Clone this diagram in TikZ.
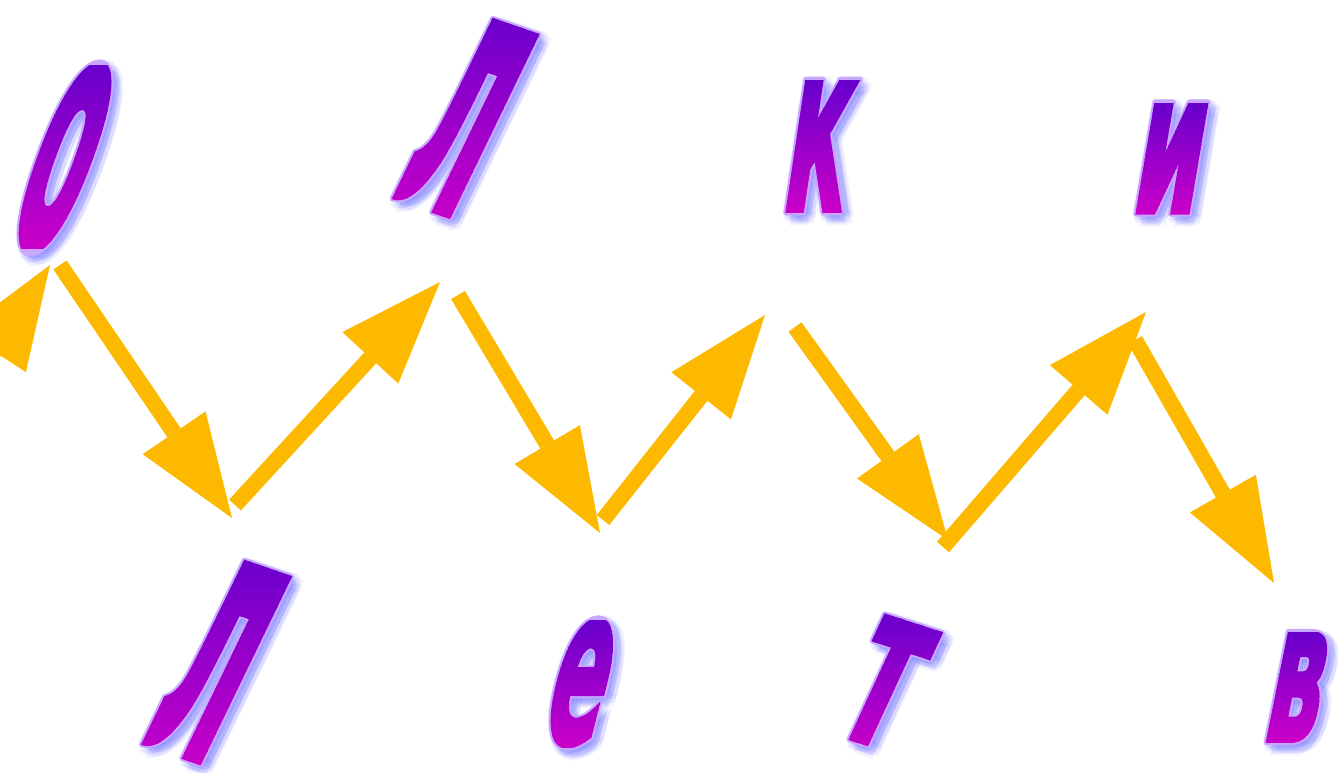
\documentclass[tikz,border=0pt]{standalone}
\usepackage{fontspec}
\usetikzlibrary{arrows.meta}
\newfontfamily\lf{DejaVu Sans}[BoldFeatures={FakeBold=2.5}]
\definecolor{arrc}{HTML}{FDB800}
\definecolor{gtop}{HTML}{6A00CC}
\definecolor{gbot}{HTML}{C800C8}
\definecolor{glowc}{HTML}{6A6AFF}
\definecolor{outc}{HTML}{C8A8FF}
\tikzset{
  arr/.style={line width=16pt, draw=arrc, line cap=butt,
    -{Triangle[length=103pt,width=76pt,line width=0pt]}},
  lettr/.style={inner sep=0pt, anchor=center}
}
% #1 name, #2 x, #3 y, #4 char, #5 font size (pt), #6 transform, #7 top y, #8 bottom y
\newcommand\gradletter[8]{%
  \coordinate (#1) at (#2,#3);
  \foreach \gx/\gy in {4/5,8/6,6/10,0/8,8/0,2/2,10/10,-2/6,6/-2,4/12,12/4,-3/-1,3/8,9/3}{
    \node[lettr,#6,font={\lf\bfseries\fontsize{#5pt}{#5pt}\selectfont},
      text=glowc,opacity=0.08] at ([shift={(\gx,\gy)}]#1) {#4};}
  \foreach \gx/\gy in {2/0,-2/0,0/2,0/-2,1.5/1.5,-1.5/1.5,1.5/-1.5,-1.5/-1.5}{
    \node[lettr,#6,font={\lf\bfseries\fontsize{#5pt}{#5pt}\selectfont},
      text=outc] at ([shift={(\gx,\gy)}]#1) {#4};}
  \foreach \i in {0,...,23}{
    \pgfmathsetmacro\ya{#7+\i*(#8-#7)/24}
    \pgfmathsetmacro\yb{#7+(\i+1)*(#8-#7)/24+0.8}
    \pgfmathtruncatemacro\pc{\i*100/23}
    \begin{scope}
      \clip (#2-250,\ya) rectangle (#2+250,\yb);
      \node[lettr,#6,font={\lf\bfseries\fontsize{#5pt}{#5pt}\selectfont},
        text={gbot!\pc!gtop}] at (#1) {#4};
    \end{scope}}
}
\begin{document}
\begin{tikzpicture}[x=1pt,y=-1pt]
\useasboundingbox (0,0) rectangle (1338,772);
\clip (0,0) rectangle (1338,772);
% letters
\gradletter{lo}{65}{158}{о}{322}{xslant=0.36,xscale=0.28}{65}{248}
\gradletter{ll1}{467}{117}{л}{357}{rotate=-19,xslant=0.12,xscale=0.28}{10}{225}
\gradletter{lk}{820}{146}{к}{236}{xslant=0.15,xscale=0.39}{80}{212}
\gradletter{li}{1172}{158}{и}{198}{xslant=0.17,xscale=0.49}{103}{214}
\gradletter{ll2}{218}{661}{л}{365}{rotate=-19,xslant=0.12,xscale=0.28}{552}{770}
\gradletter{le}{582}{683}{е}{219}{xslant=0.25,xscale=0.38}{620}{747}
\gradletter{lt}{886}{683}{т}{230}{rotate=-18,xslant=0.12,xscale=0.45}{613}{753}
\gradletter{lv}{1298}{687}{в}{196}{xslant=0.2,xscale=0.44}{632}{742}
% arrows
\coordinate (s0) at (-86,475);  \coordinate (t0) at (50,265);
\coordinate (s1) at (60,265);   \coordinate (t1) at (232,518);
\coordinate (s2) at (235,505);  \coordinate (t2) at (440,282);
\coordinate (s3) at (458,295);  \coordinate (t3) at (600,533);
\coordinate (s4) at (603,520);  \coordinate (t4) at (765,315);
\coordinate (s5) at (795,327);  \coordinate (t5) at (948,540);
\coordinate (s6) at (943,547);  \coordinate (t6) at (1146,312);
\coordinate (s7) at (1135,340); \coordinate (t7) at (1274,583);
\foreach \k in {0,...,7}{\draw[arr] (s\k) -- (t\k);}
\end{tikzpicture}
\end{document}
